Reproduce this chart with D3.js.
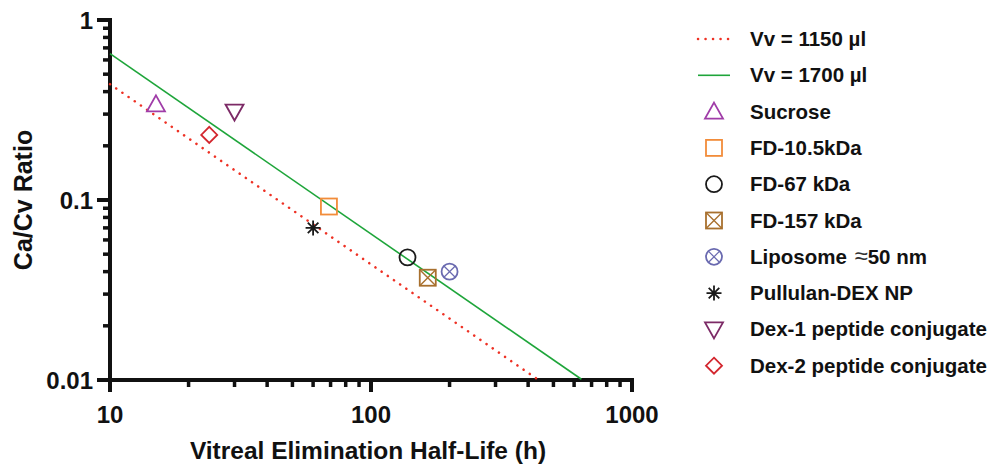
<!DOCTYPE html>
<html>
<head>
<meta charset="utf-8">
<script src="https://cdn.jsdelivr.net/npm/d3@7"></script>
<style>
  body { margin: 0; background: #fff; }
  text { font-family: "Liberation Sans", Arial, sans-serif; font-weight: bold; fill: #111; }
</style>
</head>
<body>
<div id="chart"></div>
<script>
// half-life (h) vs Ca/Cv ratio
const seriesNames = ["Sucrose", "FD-10.5kDa", "FD-67 kDa", "FD-157 kDa", "Liposome \u224850 nm", "Pullulan-DEX NP", "Dex-1 peptide conjugate", "Dex-2 peptide conjugate"];
const halfLife   = [15, 69, 138, 165, 200, 60, 30, 24];
const ratio      = [0.34, 0.092, 0.048, 0.037, 0.040, 0.070, 0.31, 0.23];
const shapes     = ["triUp", "square", "circle", "boxX", "circX", "star", "triDown", "diamond"];
const colors     = ["#a03ca8", "#f28c3a", "#1a1a1a", "#a8702e", "#6a6ab0", "#1a1a1a", "#7c2a66", "#d3262e"];

const lineNames  = ["Vv = 1150 \u00b5l", "Vv = 1700 \u00b5l"];
const line1150   = [[10, 0.44], [430, 0.0102]];
const line1700   = [[10, 0.65], [640, 0.0101]];

const xTicks = [10, 100, 1000];
const yTicks = [0.01, 0.1, 1];

const W = 998, H = 468;
const m = {left: 110, right: 366, top: 20, bottom: 88};

const svg = d3.select("#chart").append("svg")
  .attr("width", W).attr("height", H);

const x = d3.scaleLog().domain([10, 1000]).range([m.left, W - m.right]);
const y = d3.scaleLog().domain([0.01, 1]).range([H - m.bottom, m.top]);

// minor ticks
const xMinor = x.ticks().filter(d => !xTicks.includes(d));
const yMinor = y.ticks().filter(d => !yTicks.includes(d));

const gx = svg.append("g").attr("transform", `translate(0,${H - m.bottom})`);
gx.append("line").attr("x1", x(10) - 2).attr("x2", x(1000) + 2)
  .attr("stroke", "#111").attr("stroke-width", 4);
gx.selectAll(".maj").data(xTicks).join("line")
  .attr("x1", d => x(d)).attr("x2", d => x(d)).attr("y1", 0).attr("y2", 12)
  .attr("stroke", "#111").attr("stroke-width", 4);
gx.selectAll(".min").data(xMinor).join("line")
  .attr("x1", d => x(d)).attr("x2", d => x(d)).attr("y1", 0).attr("y2", 7)
  .attr("stroke", "#111").attr("stroke-width", 3.5);
gx.selectAll(".lbl").data(xTicks).join("text")
  .attr("x", d => x(d)).attr("y", 43)
  .attr("text-anchor", "middle").attr("font-size", 24)
  .text(d => d);
svg.append("text")
  .attr("x", (x(10) + x(1000)) / 2 - 3).attr("y", 459)
  .attr("text-anchor", "middle").attr("font-size", 24.5)
  .text("Vitreal Elimination Half-Life (h)");

const gy = svg.append("g").attr("transform", `translate(${m.left},0)`);
gy.append("line").attr("y1", y(1) - 2).attr("y2", y(0.01) + 2)
  .attr("stroke", "#111").attr("stroke-width", 4);
gy.selectAll(".maj").data(yTicks).join("line")
  .attr("y1", d => y(d)).attr("y2", d => y(d)).attr("x1", 0).attr("x2", -13)
  .attr("stroke", "#111").attr("stroke-width", 4);
gy.selectAll(".min").data(yMinor).join("line")
  .attr("y1", d => y(d)).attr("y2", d => y(d)).attr("x1", 0).attr("x2", -7)
  .attr("stroke", "#111").attr("stroke-width", 3.5);
gy.selectAll(".lbl").data(yTicks).join("text")
  .attr("x", -17).attr("y", d => y(d) + 9)
  .attr("text-anchor", "end").attr("font-size", 24)
  .text(d => d);
svg.append("text")
  .attr("transform", `translate(32,${(y(1) + y(0.01)) / 2}) rotate(-90)`)
  .attr("text-anchor", "middle").attr("font-size", 25)
  .text("Ca/Cv Ratio");

// fitted lines
const lineGen = d3.line().x(d => x(d[0])).y(d => y(d[1]));
svg.append("path").datum(line1150).attr("d", lineGen)
  .attr("fill", "none").attr("stroke", "#ee3124").attr("stroke-width", 2.5)
  .attr("stroke-dasharray", "0.1 7.4").attr("stroke-linecap", "round");
svg.append("path").datum(line1700).attr("d", lineGen)
  .attr("fill", "none").attr("stroke", "#1ea53a").attr("stroke-width", 1.6);

// marker drawing
function marker(g, shape, color) {
  const s = 8;
  const st = {fill: "none", stroke: color, "stroke-width": 1.8};
  const add = (tag, attrs) => {
    const el = g.append(tag);
    Object.entries(Object.assign({}, st, attrs)).forEach(([k, v]) => el.attr(k, v));
    return el;
  };
  if (shape === "triUp") add("path", {d: `M0,${-s - 1}L${s + 1},${s - 1}L${-s - 1},${s - 1}Z`});
  if (shape === "triDown") add("path", {d: `M0,${s + 1}L${s + 1},${-s + 1}L${-s - 1},${-s + 1}Z`});
  if (shape === "square") add("rect", {x: -s, y: -s, width: 2 * s, height: 2 * s});
  if (shape === "circle") add("circle", {r: s});
  if (shape === "boxX") {
    add("rect", {x: -s, y: -s, width: 2 * s, height: 2 * s});
    add("path", {d: `M${-s},${-s}L${s},${s}M${s},${-s}L${-s},${s}`, "stroke-width": 1.4});
  }
  if (shape === "circX") {
    add("circle", {r: s});
    const k = s * 0.707;
    add("path", {d: `M${-k},${-k}L${k},${k}M${k},${-k}L${-k},${k}`, "stroke-width": 1.2});
  }
  if (shape === "diamond") add("path", {d: `M0,${-s}L${s},0L0,${s}L${-s},0Z`});
  if (shape === "star") {
    const r = 7.5, d = [];
    for (let i = 0; i < 4; i++) {
      const a = i * Math.PI / 4 + Math.PI / 2;
      d.push(`M${r * Math.cos(a)},${r * Math.sin(a)}L${-r * Math.cos(a)},${-r * Math.sin(a)}`);
    }
    add("path", {d: d.join(""), "stroke-width": 1.8});
  }
}

seriesNames.forEach((name, i) => {
  const g = svg.append("g").attr("transform", `translate(${x(halfLife[i])},${y(ratio[i])})`);
  marker(g, shapes[i], colors[i]);
});

// legend
const legX = 698, legY0 = 39, legStep = 36.3;
const leg = svg.append("g");
leg.append("line").attr("x1", legX).attr("x2", legX + 32)
  .attr("y1", legY0).attr("y2", legY0)
  .attr("stroke", "#ee3124").attr("stroke-width", 2.5)
  .attr("stroke-dasharray", "0.1 7.4").attr("stroke-linecap", "round");
leg.append("line").attr("x1", legX).attr("x2", legX + 32)
  .attr("y1", legY0 + legStep).attr("y2", legY0 + legStep)
  .attr("stroke", "#1ea53a").attr("stroke-width", 1.6);

function legText(px, py, label) {
  const t = leg.append("text").attr("x", px).attr("y", py).attr("font-size", 20.5);
  const parts = label.split("\u2248");
  t.append("tspan").text(parts[0]);
  if (parts.length > 1) {
    t.append("tspan").attr("font-weight", "normal").attr("font-size", 24)
      .attr("fill", "#333").attr("dx", 2).text("\u2248");
    t.append("tspan").text(parts[1]);
  }
}
lineNames.forEach((n, i) => legText(750, legY0 + i * legStep + 7, n));
seriesNames.forEach((name, i) => {
  const cy = legY0 + (i + 2) * legStep;
  const g = leg.append("g").attr("transform", `translate(714,${cy})`);
  marker(g, shapes[i], colors[i]);
  legText(750, cy + 7, name);
});
</script>
</body>
</html>
